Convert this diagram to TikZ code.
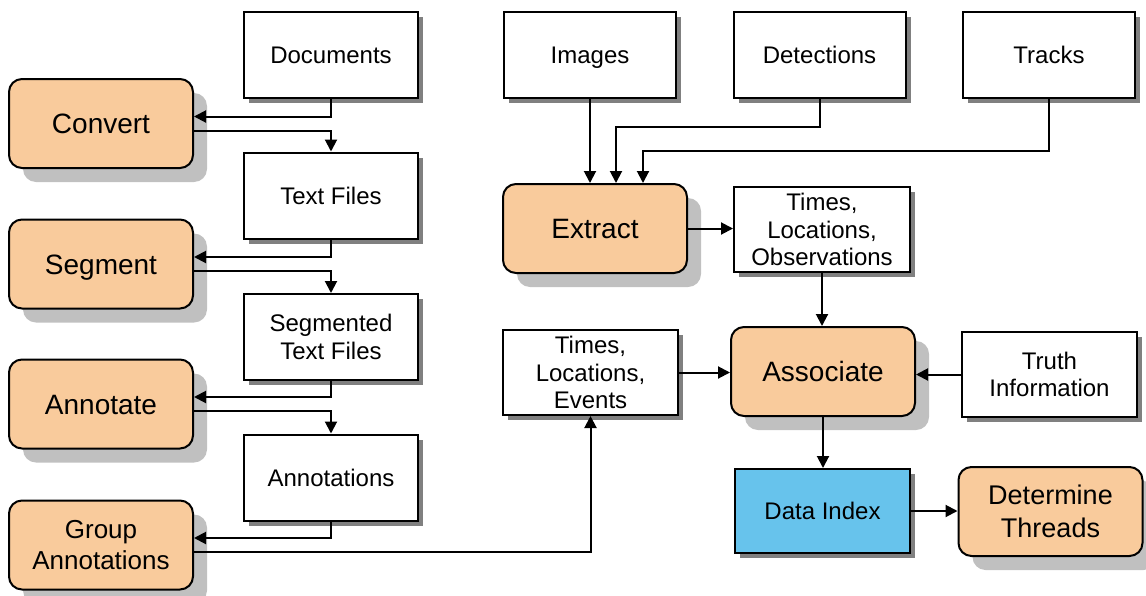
\documentclass[tikz,border=0pt]{standalone}
\usepackage{fontspec}
\setmainfont{Liberation Sans}
\usepackage{tikz}
\usetikzlibrary{shapes, arrows.meta, positioning, shadows}
\usepackage{xcolor}
\definecolor{peach}{HTML}{F9CB9C}
\definecolor{skyblue}{HTML}{67C3EC}
\definecolor{lightshadow}{HTML}{C0C0C0}
\definecolor{darkshadow}{HTML}{808080}

\begin{document}
\begin{tikzpicture}[x=0.5pt, y=-0.5pt, line width=1pt,
    arr/.style={-{Triangle[length=6pt,width=6pt]}},
    procline/.style={text height=10pt, text depth=0pt},
    fileline/.style={text height=8.6pt, text depth=0pt},
    procbox/.style={draw, fill=peach, rounded corners=6.5pt,
        minimum width=92pt, minimum height=44.5pt, inner sep=0pt,
        align=center, font=\fontsize{14}{17}\selectfont,
        drop shadow={shadow xshift=7pt, shadow yshift=-7pt,
            fill=lightshadow, opacity=1}},
    filebox/.style={draw, fill=white,
        minimum width=87pt, minimum height=43pt, inner sep=0pt,
        align=center, font=\fontsize{12}{13.8}\selectfont,
        drop shadow={shadow xshift=2.5pt, shadow yshift=-2.5pt,
            fill=darkshadow, opacity=1}}]

\useasboundingbox (0,0) rectangle (1146,595);

% Left column: processing steps
\node[procbox, procline] (conv) at (101,123.5) {Convert};
\node[procbox, procline] (seg) at (101,264) {Segment};
\node[procbox, procline] (ann) at (101,404) {Annotate};
\node[procbox,
    font=\fontsize{13}{15.5}\selectfont
] (grp) at (101,545) {Group\\Annotations};

% Left column: files
\node[filebox, fileline] (docs) at (331,55) {Documents};
\node[filebox, fileline] (txt) at (331,195.5) {Text Files};
\node[filebox] (segtxt) at (331,337) {Segmented\\Text Files};
\node[filebox, fileline] (annfile) at (331,477.5) {Annotations};

% Top row: inputs
\node[filebox, fileline, minimum width=86pt] (img) at (590,55) {Images};
\node[filebox, fileline, minimum width=86pt] (dets) at (819.5,55) {Detections};
\node[filebox, fileline, minimum width=86pt] (trk) at (1049,55) {Tracks};

% Extraction and association
\node[procbox, procline] (ext) at (595,228.5) {Extract};
\node[filebox,
    minimum width=88pt, minimum height=42.5pt
] (tlo) at (822,229.5) {Times,\\Locations,\\Observations};
\node[filebox,
    minimum width=87.5pt, minimum height=42.5pt
] (tle) at (590.5,372.5) {Times,\\Locations,\\Events};
\node[procbox, procline] (asc) at (823,371.5) {Associate};
\node[filebox,
    minimum width=87.5pt, minimum height=42.5pt
] (truth) at (1049.5,374.5) {Truth\\Information};

% Output
\node[filebox, fileline, fill=skyblue,
    minimum width=87.5pt, minimum height=42pt
] (dix) at (822.5,511) {Data Index};
\node[procbox,
    font=\fontsize{13.5}{16.5}\selectfont
] (thr) at (1050.5,511.5) {Determine\\Threads};

% Arrows
\draw[arr] (docs.south) |- ([yshift=3.5pt]conv.east);
\draw[arr] ([yshift=-3.5pt]conv.east) -| (txt.north);
\draw[arr] (txt.south) |- ([yshift=3.5pt]seg.east);
\draw[arr] ([yshift=-3.5pt]seg.east) -| (segtxt.north);
\draw[arr] (segtxt.south) |- ([yshift=3.5pt]ann.east);
\draw[arr] ([yshift=-3.5pt]ann.east) -| (annfile.north);
\draw[arr] (annfile.south) |- ([yshift=3.5pt]grp.east);
\draw[arr] ([yshift=-3.5pt]grp.east) -| (tle.south);

\draw[arr] (img.south) -- (img.south |- ext.north);
\draw[arr] (dets.south) -- ++(0,28) -| ([xshift=10.5pt]ext.north);
\draw[arr] (trk.south) -- ++(0,52) -| ([xshift=24pt]ext.north);
\draw[arr] (ext.east) -- (ext.east -| tlo.west);
\draw[arr] (tlo.south) -- (tlo.south |- asc.north);
\draw[arr] (tle.east) -- (tle.east -| asc.west);
\draw[arr] (truth.west) -- (truth.west -| asc.east);
\draw[arr] (asc.south) -- (asc.south |- dix.north);
\draw[arr] (dix.east) -- (dix.east -| thr.west);

\end{tikzpicture}
\end{document}
